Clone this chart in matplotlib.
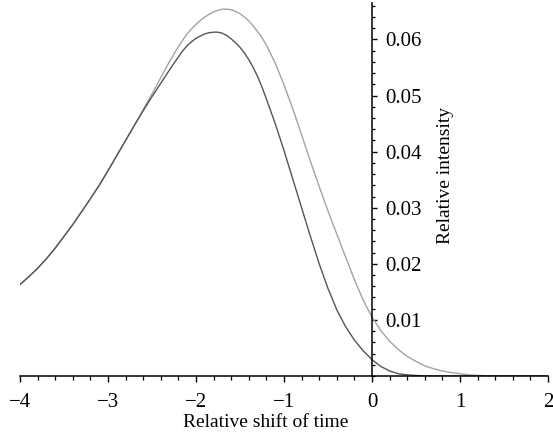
import matplotlib
matplotlib.use('Agg')
import matplotlib.pyplot as plt
from matplotlib.ticker import MultipleLocator, FixedLocator

# shift of time (x) and the two intensity curves
shift = [-4.0, -3.9, -3.8, -3.7, -3.6, -3.5, -3.4, -3.3, -3.2, -3.1,
         -3.0, -2.9, -2.8, -2.7, -2.6, -2.5, -2.4, -2.3, -2.2, -2.15,
         -2.1, -2.05, -2.0, -1.95, -1.9, -1.85, -1.8, -1.75, -1.7, -1.65,
         -1.6, -1.55, -1.5, -1.45, -1.4, -1.35, -1.3, -1.25, -1.2, -1.1,
         -1.0, -0.9, -0.8, -0.7, -0.6, -0.5, -0.4, -0.3, -0.2, -0.1,
         0.0, 0.1, 0.2, 0.3, 0.4, 0.5, 0.6, 0.7, 0.8, 0.9,
         1.0, 1.1, 1.2, 1.4, 1.6, 1.8, 2.0]

intensity_dark = [0.0163, 0.0177, 0.0192, 0.0209, 0.0228, 0.0249, 0.0270, 0.0293, 0.0316, 0.0340,
                  0.0366, 0.0393, 0.0420, 0.0447, 0.0473, 0.0498, 0.0522, 0.0546, 0.0569, 0.0580,
                  0.0589, 0.0596, 0.0602, 0.0606, 0.0610, 0.0612, 0.0613, 0.0613, 0.0611, 0.0607,
                  0.0601, 0.0594, 0.0586, 0.0576, 0.0564, 0.0550, 0.0534, 0.0515, 0.0494, 0.0450,
                  0.0402, 0.0351, 0.0300, 0.0249, 0.0200, 0.0156, 0.0118, 0.0088, 0.0064, 0.0045,
                  0.0029, 0.0017, 0.0009, 0.0004, 0.0002, 0.0001, 0.0, 0.0, 0.0, 0.0,
                  0.0, 0.0, 0.0, 0.0, 0.0, 0.0, 0.0]

intensity_light = [0.0163, 0.0177, 0.0192, 0.0209, 0.0228, 0.0249, 0.0270, 0.0293, 0.0316, 0.0340,
                   0.0366, 0.0393, 0.0420, 0.0447, 0.0475, 0.0503, 0.0532, 0.0561, 0.0587, 0.0599,
                   0.0610, 0.0619, 0.0627, 0.0634, 0.0640, 0.0645, 0.0649, 0.0652, 0.0654, 0.0654,
                   0.0653, 0.0650, 0.0646, 0.0640, 0.0633, 0.0624, 0.0614, 0.0603, 0.0590, 0.0558,
                   0.0519, 0.0476, 0.0430, 0.0383, 0.0338, 0.0294, 0.0253, 0.0212, 0.0172, 0.0135,
                   0.0105, 0.0081, 0.0062, 0.0047, 0.0035, 0.0026, 0.0018, 0.0013, 0.0009, 0.0006,
                   0.0004, 0.0002, 0.0001, 0.0, 0.0, 0.0, 0.0]

y_ticks = [0.01, 0.02, 0.03, 0.04, 0.05, 0.06]
y_tick_labels = ['0.01', '0.02', '0.03', '0.04', '0.05', '0.06']

plt.rcParams['font.family'] = ['Liberation Serif', 'DejaVu Serif']

fig = plt.figure(figsize=(5.53, 4.45), dpi=100)
ax = fig.add_axes([20 / 553, 69 / 445, 528 / 553, 373 / 445])

ax.plot(shift, intensity_light, color='#a3a3a3', lw=1.0)
ax.plot(shift, intensity_dark, color='#555555', lw=1.0)

ax.set_xlim(-4, 2)
ax.set_ylim(0, 0.0665)

# axes cross at the origin, y ticks and labels on the right of the axis
ax.spines['top'].set_visible(False)
ax.spines['left'].set_visible(False)
ax.spines['right'].set_position(('data', 0))
ax.spines['bottom'].set_position(('data', 0))
for s in ['right', 'bottom']:
    ax.spines[s].set_linewidth(1.1)
ax.yaxis.tick_right()

ax.xaxis.set_major_locator(MultipleLocator(1))
ax.xaxis.set_minor_locator(MultipleLocator(0.2))
ax.yaxis.set_major_locator(FixedLocator(y_ticks))
ax.set_yticklabels(y_tick_labels)
ax.yaxis.set_minor_locator(MultipleLocator(0.002))

ax.tick_params(axis='x', which='major', direction='out', length=4.5, width=1.0,
               labelsize=15, pad=8)
ax.tick_params(axis='x', which='minor', direction='out', length=3, width=0.9)
ax.tick_params(axis='y', which='major', direction='out', length=3.5, width=1.0,
               labelsize=15, pad=6)
ax.tick_params(axis='y', which='minor', direction='out', length=2.2, width=0.9)

ax.text(0.466, -0.125, 'Relative shift of time', transform=ax.transAxes,
        ha='center', va='center', fontsize=14)
ax.text(0.805, 0.539, 'Relative intensity', transform=ax.transAxes,
        ha='center', va='center', rotation=90, fontsize=14)

plt.savefig('out.png', dpi=100)
plt.close()
